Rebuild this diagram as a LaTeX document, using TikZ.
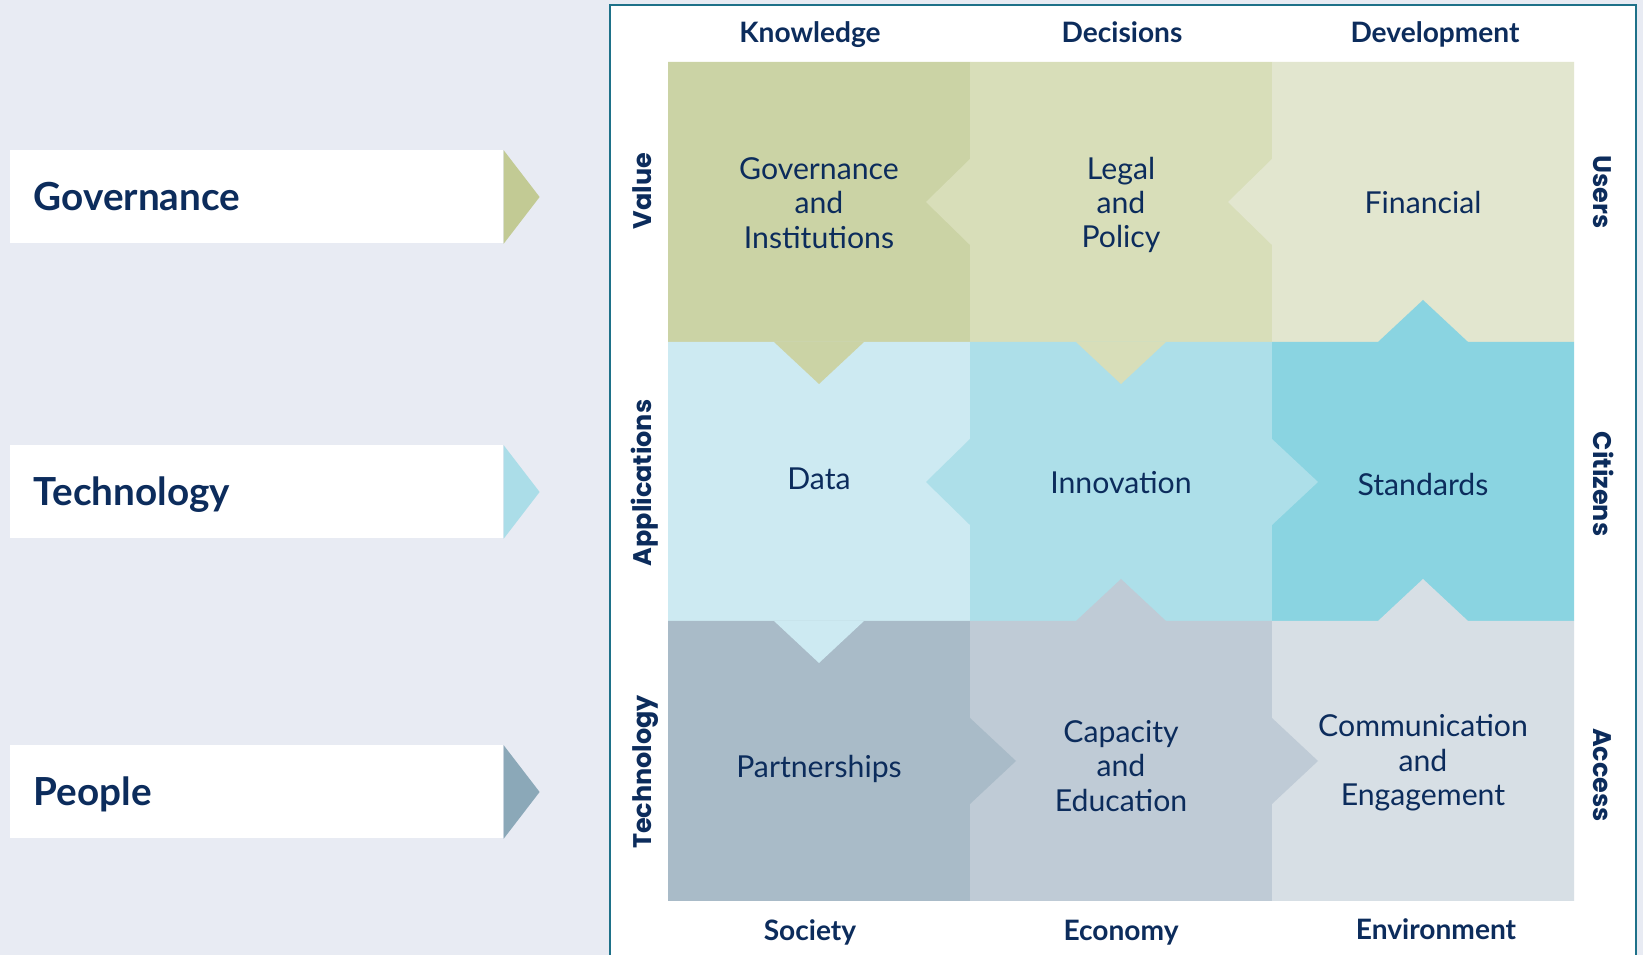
\documentclass[tikz,border=0pt]{standalone}
\usepackage{fontspec}
\setmainfont{Lato}
\newfontfamily\sidefont{Poppins}
\usepackage{tkz-euclide}
\usetikzlibrary{calc}
\definecolor{BackClr}{HTML}{E8EBF3}
\definecolor{FrameClr}{HTML}{1E7189}
\definecolor{TextClr}{HTML}{0C2C5C}
\definecolor{GovClr}{HTML}{CBD3A5}
\definecolor{LegalClr}{HTML}{D8DEB9}
\definecolor{FinClr}{HTML}{E2E6CF}
\definecolor{DataClr}{HTML}{CDEAF2}
\definecolor{InnovClr}{HTML}{ADDFE9}
\definecolor{StandClr}{HTML}{8AD4E1}
\definecolor{PartnClr}{HTML}{A9BBC8}
\definecolor{CapacClr}{HTML}{BFCBD6}
\definecolor{CommClr}{HTML}{D7DFE5}
\definecolor{GovArr}{HTML}{C2CA94}
\definecolor{TechArr}{HTML}{ABDDE8}
\definecolor{PeopArr}{HTML}{8BA8B8}

\begin{document}
\begin{tikzpicture}[x=0.02cm,y=0.02cm,
  cellTxt/.style={text=TextClr,align=center,font=\fontsize{17.2}{19.6}\selectfont},
  headTxt/.style={text=TextClr,anchor=base,font=\fontsize{16}{19}\selectfont\bfseries},
  sideTxt/.style={text=TextClr,anchor=base,font=\sidefont\fontsize{14.5}{17}\selectfont\bfseries},
  rowBox/.style={fill=white,anchor=west,minimum height=1.86cm,inner xsep=0.47cm,
    text width=8.92cm,text height=15.8pt,text depth=0pt,align=left,text=TextClr,
    font=\fontsize{22}{26}\selectfont\bfseries}]
\useasboundingbox (0,0) rectangle (1643,955);
\fill[BackClr] (0,0) rectangle (1643,955);
\fill[white] (610,0) rectangle (1636,950);
\draw[FrameClr,line width=1.2pt] (610,0) -- (610,950) -- (1636,950) -- (1636,0);

\tkzDefPoints{668/893/A1,970/893/B1,1272/893/C1,1574/893/D1,
  668/613/A2,970/613/B2,1272/613/C2,1574/613/D2,
  668/334/A3,970/334/B3,1272/334/C3,1574/334/D3,
  668/54/A4,970/54/B4,1272/54/C4,1574/54/D4}

% the nine cells
\tkzFillPolygon[fill=GovClr](A1,B1,B2,A2)
\tkzFillPolygon[fill=LegalClr](B1,C1,C2,B2)
\tkzFillPolygon[fill=FinClr](C1,D1,D2,C2)
\tkzFillPolygon[fill=DataClr](A2,B2,B3,A3)
\tkzFillPolygon[fill=InnovClr](B2,C2,C3,B3)
\tkzFillPolygon[fill=StandClr](C2,D2,D3,C3)
\tkzFillPolygon[fill=PartnClr](A3,B3,B4,A4)
\tkzFillPolygon[fill=CapacClr](B3,C3,C4,B4)
\tkzFillPolygon[fill=CommClr](C3,D3,D4,C4)

% tabs
\fill[GovClr] (774,613) -- (864,613) -- (819,571) -- cycle;
\fill[LegalClr] (1076,613) -- (1166,613) -- (1121,571) -- cycle;
\fill[LegalClr] (970,796) -- (970,710) -- (926,753) -- cycle;
\fill[FinClr] (1272,796) -- (1272,710) -- (1228,753) -- cycle;
\fill[StandClr] (1378,613) -- (1468,613) -- (1423,655) -- cycle;
\fill[InnovClr] (970,516) -- (970,430) -- (926,473) -- cycle;
\fill[InnovClr] (1272,516) -- (1272,430) -- (1318,473) -- cycle;
\fill[DataClr] (774,334) -- (864,334) -- (819,292) -- cycle;
\fill[CapacClr] (1076,334) -- (1166,334) -- (1121,376) -- cycle;
\fill[CommClr] (1378,334) -- (1468,334) -- (1423,376) -- cycle;
\fill[PartnClr] (970,237) -- (970,151) -- (1016,194) -- cycle;
\fill[CapacClr] (1272,237) -- (1272,151) -- (1318,194) -- cycle;

\node[cellTxt] (gov) at (819,752) {Governance\\and\\Institutions};
\node[cellTxt] (legal) at (1121,750) {Legal\\and\\Policy};
\node[cellTxt] (fin) at (1423,752) {Financial};
\node[cellTxt] (data) at (819,476) {Data};
\node[cellTxt] (innov) at (1121,472) {Innovation};
\node[cellTxt] (stand) at (1423,470) {Standards};
\node[cellTxt] (partn) at (819,186) {Partnerships};
\node[cellTxt] (capac) at (1121,189) {Capacity\\and\\Education};
\node[cellTxt] (comm) at (1423,192) {Communication\\and\\Engagement};

% left side
\node[rowBox] (govBox) at (10,758) {Governance};
\fill[GovArr] (govBox.north east) -- ($(govBox.east)+(36,0)$) -- (govBox.south east) -- cycle;
\node[rowBox] (techBox) at (10,463) {Technology};
\fill[TechArr] (techBox.north east) -- ($(techBox.east)+(36,0)$) -- (techBox.south east) -- cycle;
\node[rowBox] (peopBox) at (10,163) {People};
\fill[PeopArr] (peopBox.north east) -- ($(peopBox.east)+(36,0)$) -- (peopBox.south east) -- cycle;

\node[headTxt] (know) at (810,912) {Knowledge};
\node[headTxt] (deci) at (1122,912) {Decisions};
\node[headTxt] (devel) at (1435,912) {Development};
\node[headTxt] (soc) at (810,14) {Society};
\node[headTxt] (econ) at (1121,14) {Economy};
\node[headTxt] (envir) at (1436,15) {Environment};

\node[sideTxt,rotate=90] (value) at (651,764) {Value};
\node[sideTxt,rotate=90] (appl) at (651,472) {Applications};
\node[sideTxt,rotate=90] (techn) at (651,183) {Technology};
\node[sideTxt,rotate=-90] (users) at (1593,763) {Users};
\node[sideTxt,rotate=-90] (citiz) at (1593,471) {Citizens};
\node[sideTxt,rotate=-90] (access) at (1593,180) {Access};
\end{tikzpicture}
\end{document}
